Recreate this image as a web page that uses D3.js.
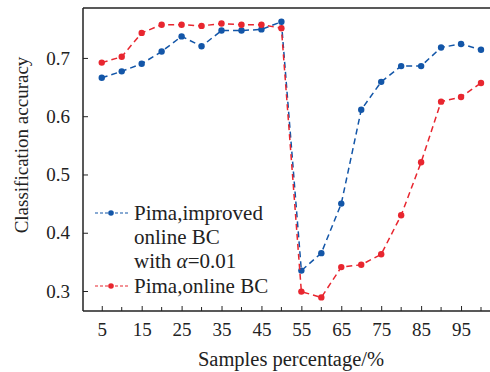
<!DOCTYPE html>
<html>
<head>
<meta charset="utf-8">
<script src="https://cdn.jsdelivr.net/npm/d3@7"></script>
<style>
  body { margin: 0; background: #fff; }
</style>
</head>
<body>
<div id="chart"></div>
<script>
const samples = [5, 10, 15, 20, 25, 30, 35, 40, 45, 50, 55, 60, 65, 70, 75, 80, 85, 90, 95, 100];
const improvedBC = [0.666, 0.677, 0.690, 0.711, 0.737, 0.720, 0.747, 0.747, 0.749, 0.762,
  0.335, 0.365, 0.450, 0.611, 0.659, 0.686, 0.686, 0.718, 0.724, 0.714];
const onlineBC = [0.692, 0.702, 0.743, 0.757, 0.757, 0.755, 0.759, 0.757, 0.757, 0.751,
  0.299, 0.289, 0.341, 0.345, 0.363, 0.430, 0.521, 0.625, 0.633, 0.657];
const xTicks = [5, 15, 25, 35, 45, 55, 65, 75, 85, 95];
const yTicks = [0.3, 0.4, 0.5, 0.6, 0.7];

const FONT = "'Liberation Serif', 'Times New Roman', serif";
const width = 490, height = 372;
const margin = { top: 8, right: 0, bottom: 61, left: 83 };

const svg = d3.select("#chart").append("svg")
  .attr("width", width)
  .attr("height", height)
  .attr("font-family", FONT);

const x = d3.scaleLinear().domain([0.3, 100]).range([margin.left, 481]);
const y = d3.scaleLinear().domain([0.2657, 0.7857]).range([height - margin.bottom, margin.top]);

// frame: left, bottom, top
const g = svg.append("g");
g.append("line").attr("x1", margin.left).attr("x2", width)
  .attr("y1", margin.top).attr("y2", margin.top)
  .attr("stroke", "#222").attr("stroke-width", 1.5);

// x axis, ticks pointing inward
const xAxis = g.append("g")
  .attr("transform", `translate(0,${height - margin.bottom})`)
  .call(d3.axisBottom(x).tickValues(xTicks).tickSizeInner(-5).tickSizeOuter(0).tickPadding(12))
  .attr("font-family", FONT).attr("font-size", 19);
xAxis.select(".domain").remove();
xAxis.selectAll(".tick line").attr("stroke", "#222");
xAxis.selectAll("text").attr("fill", "#222");
// minor ticks
g.selectAll(".minor-x").data(d3.range(10, 101, 10)).join("line")
  .attr("x1", d => x(d)).attr("x2", d => x(d))
  .attr("y1", height - margin.bottom).attr("y2", height - margin.bottom - 4)
  .attr("stroke", "#222");
g.append("line").attr("x1", margin.left).attr("x2", width)
  .attr("y1", height - margin.bottom).attr("y2", height - margin.bottom)
  .attr("stroke", "#222").attr("stroke-width", 1.5);

const yAxis = g.append("g")
  .attr("transform", `translate(${margin.left},0)`)
  .call(d3.axisLeft(y).tickValues(yTicks).tickFormat(d3.format(".1f")).tickSizeInner(-5).tickSizeOuter(0).tickPadding(13))
  .attr("font-family", FONT).attr("font-size", 19);
yAxis.select(".domain").remove();
yAxis.selectAll(".tick line").attr("stroke", "#222");
yAxis.selectAll("text").attr("fill", "#222");
g.append("line").attr("x1", margin.left).attr("x2", margin.left)
  .attr("y1", margin.top).attr("y2", height - margin.bottom)
  .attr("stroke", "#222").attr("stroke-width", 1.5);

// axis titles
svg.append("text").attr("x", 291).attr("y", 366)
  .attr("text-anchor", "middle").attr("font-size", 20.5).attr("fill", "#222")
  .text("Samples percentage/%");
svg.append("text")
  .attr("transform", `translate(28,145) rotate(-90)`)
  .attr("text-anchor", "middle").attr("font-size", 19).attr("fill", "#222")
  .text("Classification accuracy");

// series
const series = [
  { name: "improved", values: improvedBC, color: "#1356a8" },
  { name: "online", values: onlineBC, color: "#e8262f" }
];
const line = d3.line().x((d, i) => x(samples[i])).y(d => y(d));

series.forEach(s => {
  svg.append("path")
    .datum(s.values)
    .attr("d", line)
    .attr("fill", "none")
    .attr("stroke", s.color)
    .attr("stroke-width", 1.5)
    .attr("stroke-dasharray", "6,4");
  svg.selectAll(".pt-" + s.name).data(s.values).join("circle")
    .attr("cx", (d, i) => x(samples[i]))
    .attr("cy", d => y(d))
    .attr("r", 3.2)
    .attr("fill", s.color);
});

// legend
const legend = svg.append("g").attr("fill", "#222");
const legendItems = [
  { color: "#1356a8", y: 213, lines: ["Pima,improved", "online BC"] },
  { color: "#e8262f", y: 286, lines: ["Pima,online BC"] }
];
legendItems.forEach(l => {
  legend.append("line").attr("x1", 95).attr("x2", 128)
    .attr("y1", l.y).attr("y2", l.y)
    .attr("stroke", l.color).attr("stroke-width", 1.2)
    .attr("stroke-dasharray", "3,2");
  legend.append("circle").attr("cx", 111).attr("cy", l.y).attr("r", 2.8).attr("fill", l.color);
  l.lines.forEach((t, i) => {
    legend.append("text").attr("x", 134).attr("y", l.y + 7 + i * 24)
      .attr("font-size", 21).text(t);
  });
});
const alphaLine = legend.append("text").attr("x", 134).attr("y", 213 + 7 + 2 * 24).attr("font-size", 21);
alphaLine.append("tspan").text("with ");
alphaLine.append("tspan").attr("font-style", "italic").text("α");
alphaLine.append("tspan").text("=0.01");
</script>
</body>
</html>
